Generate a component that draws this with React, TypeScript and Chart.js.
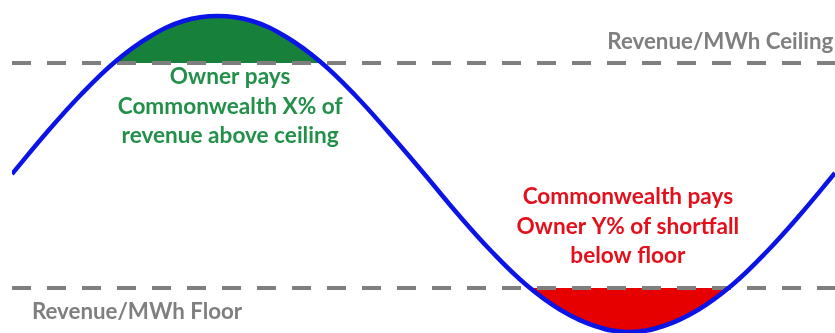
import React, { useEffect, useRef } from "react";
import { Chart, registerables } from "chart.js";

Chart.register(...registerables);

// time steps across one full cycle
const timeSteps = [0, 1, 2, 3, 4, 5, 6, 7, 8, 9, 10, 11, 12, 13, 14, 15, 16, 17, 18, 19, 20, 21, 22, 23, 24];
// revenue per MWh (arbitrary units)
const revenue = [159, 200, 238, 271, 296, 312, 317, 312, 296, 271, 238, 200, 160, 119, 81, 48, 23, 7, 1, 7, 23, 48, 81, 119, 160];
const ceilingValue = 270;
const floorValue = 45;

const greenLines = ["Owner pays", "Commonwealth X% of", "revenue above ceiling"];
const redLines = ["Commonwealth pays", "Owner Y% of shortfall", "below floor"];
const ceilingLabel = "Revenue/MWh Ceiling";
const floorLabel = "Revenue/MWh Floor";

const BLUE = "#0a14e6";
const GREEN_FILL = "#17803a";
const GREEN_TEXT = "#23904a";
const RED_FILL = "#e60000";
const RED_TEXT = "#e3101c";
const GRAY = "#7f7f7f";

const textPlugin = {
  id: "textLabels",
  afterDraw(chart: any) {
    const { ctx, scales } = chart;
    const xs = scales.x;
    const ys = scales.y;
    ctx.save();
    ctx.textBaseline = "middle";
    ctx.font = "bold 22.6px Lato, 'Open Sans', sans-serif";
    // green block
    ctx.fillStyle = GREEN_TEXT;
    ctx.textAlign = "center";
    const gx = xs.getPixelForValue(6.36);
    const gy = [256, 226, 197];
    greenLines.forEach((t, i) => ctx.fillText(t, gx, ys.getPixelForValue(gy[i])));
    // red block
    ctx.fillStyle = RED_TEXT;
    const rx = xs.getPixelForValue(17.96);
    const ry = [136, 106, 77];
    redLines.forEach((t, i) => ctx.fillText(t, rx, ys.getPixelForValue(ry[i])));
    // gray labels
    ctx.fillStyle = GRAY;
    ctx.font = "bold 22.3px Lato, 'Open Sans', sans-serif";
    ctx.textAlign = "right";
    ctx.fillText(ceilingLabel, xs.getPixelForValue(23.95), ys.getPixelForValue(291));
    ctx.textAlign = "left";
    ctx.fillText(floorLabel, xs.getPixelForValue(0.58), ys.getPixelForValue(21));
    ctx.restore();
  },
};

export default function App() {
  const ref = useRef<HTMLCanvasElement | null>(null);
  useEffect(() => {
    if (!ref.current) return;
    const curve = timeSteps.map((x, i) => ({ x, y: revenue[i] }));
    const first = timeSteps[0];
    const last = timeSteps[timeSteps.length - 1];
    const chart = new Chart(ref.current, {
      type: "line",
      data: {
        datasets: [
          {
            data: curve,
            borderWidth: 0,
            pointRadius: 0,
            tension: 0.4,
            fill: { target: { value: ceilingValue }, above: GREEN_FILL, below: "rgba(0,0,0,0)" },
            order: 5,
          },
          {
            data: curve,
            borderWidth: 0,
            pointRadius: 0,
            tension: 0.4,
            fill: { target: { value: floorValue }, above: "rgba(0,0,0,0)", below: RED_FILL },
            order: 4,
          },
          {
            data: [
              { x: first, y: ceilingValue },
              { x: last, y: ceilingValue },
            ],
            borderColor: GRAY,
            borderWidth: 4,
            borderDash: [19, 16],
            pointRadius: 0,
            fill: false,
            order: 3,
          },
          {
            data: [
              { x: first, y: floorValue },
              { x: last, y: floorValue },
            ],
            borderColor: GRAY,
            borderWidth: 4,
            borderDash: [19, 16],
            pointRadius: 0,
            fill: false,
            order: 2,
          },
          {
            data: curve,
            borderColor: BLUE,
            borderWidth: 4.5,
            pointRadius: 0,
            tension: 0.4,
            fill: false,
            order: 1,
          },
        ],
      },
      options: {
        animation: false,
        responsive: false,
        devicePixelRatio: 1,
        layout: { padding: { left: 12, right: 0, top: 0, bottom: 0 } },
        scales: {
          x: { type: "linear", min: 0, max: 24, display: false },
          y: { type: "linear", min: 0, max: 333, display: false },
        },
        plugins: {
          legend: { display: false },
          tooltip: { enabled: false },
        },
      },
      plugins: [textPlugin],
    });
    return () => chart.destroy();
  }, []);
  return (
    <div style={{ position: "fixed", left: 0, top: 0, width: 835, height: 333, background: "#fff" }}>
      <canvas ref={ref} width={835} height={333} />
    </div>
  );
}
